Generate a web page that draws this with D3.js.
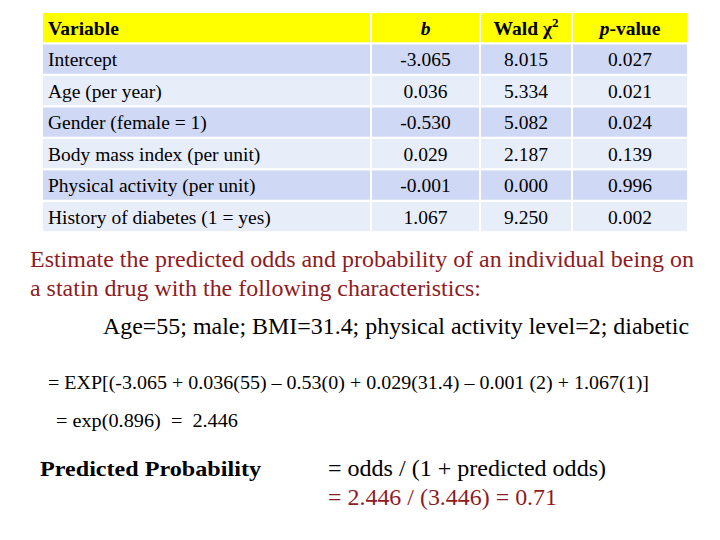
<!DOCTYPE html>
<html><head><meta charset="utf-8">
<script src="https://cdn.jsdelivr.net/npm/d3@7"></script>
<style>body{margin:0;background:#fff}svg{display:block}</style>
</head><body>
<script>
const variables = ["Intercept","Age (per year)","Gender (female = 1)","Body mass index (per unit)","Physical activity (per unit)","History of diabetes (1 = yes)"];
const bValues = ["-3.065","0.036","-0.530","0.029","-0.001","1.067"];
const waldValues = ["8.015","5.334","5.082","2.187","0.000","9.250"];
const pValues = ["0.027","0.021","0.024","0.139","0.996","0.002"];

const W=720,H=540;
const svg=d3.select("body").append("svg").attr("width",W).attr("height",H);
const font="'Liberation Serif','Times New Roman',serif";
const red="#8E1B1F";

const colEdges=[43,372,481,573,689];
const y=d3.scaleBand().domain(d3.range(-1,variables.length)).range([13,44+6*31.2]).paddingInner(0.07);
const rowFill=i=> i<0?"#FFFF00":(i%2===0?"#CFD9F6":"#E8EDFA");

const rows=svg.append("g");
d3.range(-1,variables.length).forEach(i=>{
  for(let c=0;c<4;c++){
    rows.append("rect").attr("x",colEdges[c]).attr("y",y(i))
      .attr("width",colEdges[c+1]-colEdges[c]-2).attr("height",y.bandwidth()).attr("fill",rowFill(i));
  }
});
const cx=c=>(colEdges[c]+colEdges[c+1]-2)/2;
const by=i=>y(i)+y.bandwidth()/2+7;
const fs=19.5;
// header
svg.append("text").attr("x",48).attr("y",by(-1)).attr("font-family",font).attr("font-size",fs).attr("font-weight","bold").text("Variable");
svg.append("text").attr("x",cx(1)).attr("y",by(-1)).attr("text-anchor","middle").attr("font-family",font).attr("font-size",fs).attr("font-weight","bold").attr("font-style","italic").text("b");
const wt=svg.append("text").attr("x",cx(2)).attr("y",by(-1)).attr("text-anchor","middle").attr("font-family",font).attr("font-size",fs).attr("font-weight","bold");
wt.append("tspan").text("Wald χ");
wt.append("tspan").attr("font-size",13).attr("dy",-8).text("2");
const pt=svg.append("text").attr("x",cx(3)).attr("y",by(-1)).attr("text-anchor","middle").attr("font-family",font).attr("font-size",fs).attr("font-weight","bold");
pt.append("tspan").attr("font-style","italic").text("p");
pt.append("tspan").text("-value");

variables.forEach((v,i)=>{
  svg.append("text").attr("x",48).attr("y",by(i)).attr("font-family",font).attr("font-size",fs).text(v);
  [bValues,waldValues,pValues].forEach((arr,k)=>{
    svg.append("text").attr("x",cx(k+1)).attr("y",by(i)).attr("text-anchor","middle").attr("font-family",font).attr("font-size",fs).text(arr[i]);
  });
});

function txt(x,yy,s,opts={}){
  const t=svg.append("text").attr("x",x).attr("y",yy).attr("font-family",font)
    .attr("font-size",opts.size||22).attr("fill",opts.fill||"#000").style("white-space","pre").text(s);
  if(opts.bold) t.attr("font-weight","bold");
  if(opts.len) t.attr("textLength",opts.len).attr("lengthAdjust","spacingAndGlyphs");
  return t;
}
txt(30,267,"Estimate the predicted odds and probability of an individual being on",{size:23,fill:red,len:664});
txt(30,296,"a statin drug with the following characteristics:",{size:23,fill:red,len:451});
txt(103,334,"Age=55; male; BMI=31.4; physical activity level=2; diabetic",{size:23,len:586});
txt(48,389,"= EXP[(-3.065 + 0.036(55) – 0.53(0) + 0.029(31.4) – 0.001 (2) + 1.067(1)]",{size:19.5,len:601});
txt(56,427,"= exp(0.896) \u00a0= \u00a02.446",{size:19.5,len:182});
txt(40,476,"Predicted Probability",{size:22,bold:true,len:221});
txt(328,476,"= odds / (1 + predicted odds)",{size:23,len:278});
txt(328,505,"= 2.446 / (3.446) = 0.71",{size:23,fill:red,len:229});
</script>
</body></html>
